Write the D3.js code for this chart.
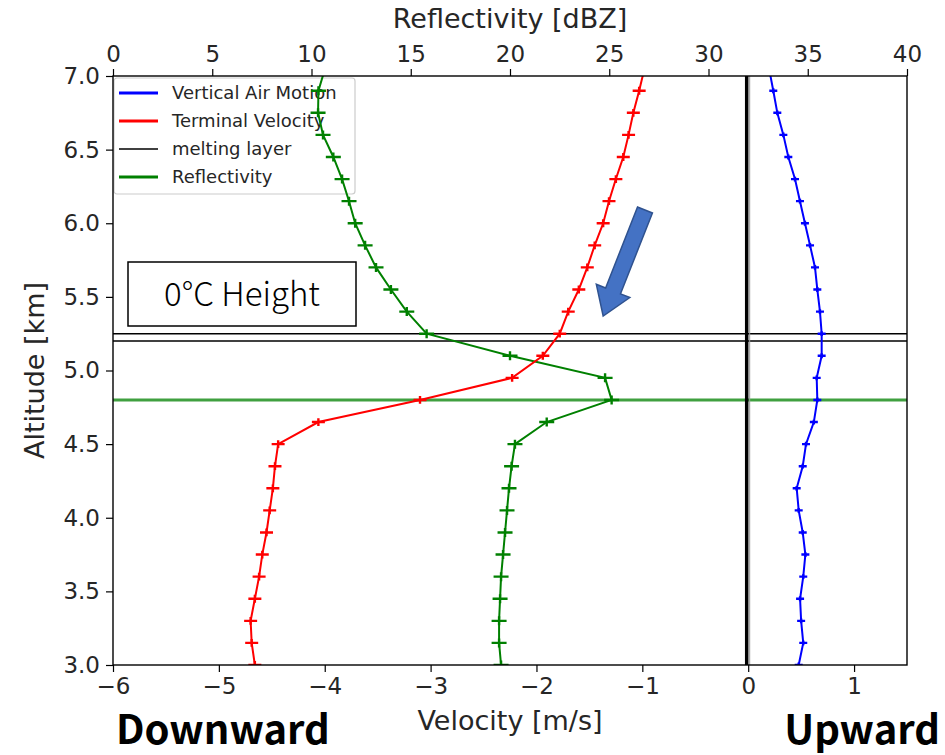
<!DOCTYPE html>
<html>
<head>
<meta charset="utf-8">
<script src="https://cdn.jsdelivr.net/npm/d3@7"></script>
<style>
  body { margin: 0; background: #fff; }
  svg { display: block; }
  .axis text { font-family: "DejaVu Sans", sans-serif; fill: #262626; }
  .axis line { stroke: #000; stroke-width: 1.2; }
</style>
</head>
<body>
<div id="chart"></div>
<script>
// altitude levels of the profiles [km]
const altitudes = [3.00, 3.15, 3.30, 3.45, 3.60, 3.75, 3.90, 4.05, 4.20, 4.35, 4.50, 4.65, 4.80, 4.95,
                   5.10, 5.25, 5.40, 5.55, 5.70, 5.85, 6.00, 6.15, 6.30, 6.45, 6.60, 6.75, 6.90, 7.05];
// velocities [m/s] (bottom axis)
const terminalVelocity = [-4.66, -4.69, -4.70, -4.66, -4.62, -4.59, -4.55, -4.52, -4.49, -4.47, -4.44, -4.06, -3.10, -2.23,
                          -1.94, -1.78, -1.70, -1.60, -1.52, -1.45, -1.37, -1.315, -1.25, -1.18, -1.13, -1.085, -1.03, -0.98];
const airMotion = [0.477, 0.52, 0.50, 0.49, 0.52, 0.54, 0.515, 0.477, 0.458, 0.515, 0.546, 0.62, 0.653, 0.647,
                   0.694, 0.694, 0.678, 0.653, 0.631, 0.584, 0.536, 0.489, 0.442, 0.379, 0.332, 0.275, 0.237, 0.197];
// reflectivity [dBZ] (top axis)
const reflectivity = [19.55, 19.45, 19.45, 19.5, 19.55, 19.65, 19.75, 19.85, 19.95, 20.08, 20.25, 21.85, 25.12, 24.79,
                      20.0, 15.8, 14.8, 14.0, 13.25, 12.7, 12.2, 11.89, 11.54, 11.10, 10.58, 10.33, 10.35, 10.68];

const meltingLayer = [5.25, 5.20];
const peakAltitude = 4.8;

const velocityTicks = [-6, -5, -4, -3, -2, -1, 0, 1];
const reflectivityTicks = [0, 5, 10, 15, 20, 25, 30, 35, 40];
const altitudeTicks = [3.0, 3.5, 4.0, 4.5, 5.0, 5.5, 6.0, 6.5, 7.0];

const legendItems = [
    { label: 'Vertical Air Motion', color: '#0000ff', w: 3 },
    { label: 'Terminal Velocity', color: '#ff0000', w: 3 },
    { label: 'melting layer', color: '#000', w: 1.3 },
    { label: 'Reflectivity', color: '#008000', w: 3 }
];

const width = 945;
const height = 755;
const plot = { left: 113, right: 907, top: 76, bottom: 665 };

const svg = d3.select('#chart').append('svg')
    .attr('width', width)
    .attr('height', height);

svg.append('rect').attr('width', width).attr('height', height).attr('fill', '#fff');

const vx = d3.scaleLinear().domain([-6, 1.5]).range([plot.left, plot.right]);
const rx = d3.scaleLinear().domain([0, 40]).range([plot.left, plot.right]);
const y = d3.scaleLinear().domain([3, 7]).range([plot.bottom, plot.top]);

svg.append('defs').append('clipPath').attr('id', 'clip')
    .append('rect')
    .attr('x', plot.left).attr('y', plot.top)
    .attr('width', plot.right - plot.left).attr('height', plot.bottom - plot.top);

// axes
const bottomAxis = svg.append('g').attr('class', 'axis')
    .attr('transform', `translate(0,${plot.bottom})`)
    .call(d3.axisBottom(vx).tickValues(velocityTicks).tickFormat(d3.format('d'))
        .tickSize(7).tickSizeOuter(0).tickPadding(6));
const topAxis = svg.append('g').attr('class', 'axis')
    .attr('transform', `translate(0,${plot.top})`)
    .call(d3.axisTop(rx).tickValues(reflectivityTicks).tickSize(7).tickSizeOuter(0).tickPadding(7));
const leftAxis = svg.append('g').attr('class', 'axis')
    .attr('transform', `translate(${plot.left},0)`)
    .call(d3.axisLeft(y).tickValues(altitudeTicks).tickFormat(d3.format('.1f'))
        .tickSize(7).tickSizeOuter(0).tickPadding(6));
[bottomAxis, topAxis, leftAxis].forEach(a => {
    a.select('.domain').remove();
    a.selectAll('text').attr('font-size', 23);
});

// legend (drawn under the lines)
const legend = svg.append('g').attr('transform', `translate(${plot.left + 1},${plot.top + 2})`);
legend.append('rect')
    .attr('width', 241).attr('height', 116).attr('rx', 3)
    .attr('fill', '#fff').attr('stroke', '#cccccc').attr('stroke-width', 1.2);
legendItems.forEach((d, i) => {
    const ly = 15 + i * 28;
    legend.append('line')
        .attr('x1', 5).attr('x2', 44).attr('y1', ly).attr('y2', ly)
        .attr('stroke', d.color).attr('stroke-width', d.w);
    legend.append('text')
        .attr('x', 58).attr('y', ly).attr('dy', '0.35em')
        .attr('font-family', 'DejaVu Sans, sans-serif').attr('font-size', 18)
        .attr('fill', '#262626')
        .text(d.label);
});

const data = altitudes.map((a, i) => ({
    alt: a, tv: terminalVelocity[i], vam: airMotion[i], dbz: reflectivity[i]
}));

const layer = svg.append('g').attr('clip-path', 'url(#clip)');

// reference lines
layer.append('line')
    .attr('x1', plot.left).attr('x2', plot.right)
    .attr('y1', y(peakAltitude)).attr('y2', y(peakAltitude))
    .attr('stroke', '#008000').attr('stroke-opacity', 0.75).attr('stroke-width', 3);
meltingLayer.forEach(m => {
    layer.append('line')
        .attr('x1', plot.left).attr('x2', plot.right)
        .attr('y1', y(m)).attr('y2', y(m))
        .attr('stroke', '#000').attr('stroke-width', 1.4);
});
layer.append('line')
    .attr('x1', vx(0) - 1.5).attr('x2', vx(0) - 1.5)
    .attr('y1', plot.top).attr('y2', plot.bottom + 4)
    .attr('stroke', '#000').attr('stroke-width', 3.5);
layer.append('line')
    .attr('x1', vx(0) + 1.5).attr('x2', vx(0) + 1.5)
    .attr('y1', plot.top).attr('y2', plot.bottom)
    .attr('stroke', '#999').attr('stroke-width', 1);

const series = [
    { key: 'dbz', scale: rx, color: '#008000', marker: 15 },
    { key: 'tv', scale: vx, color: '#ff0000', marker: 13 },
    { key: 'vam', scale: vx, color: '#0000ff', marker: 8 }
];

series.forEach(s => {
    const line = d3.line().x(d => s.scale(d[s.key])).y(d => y(d.alt));
    layer.append('path')
        .datum(data)
        .attr('d', line)
        .attr('fill', 'none')
        .attr('stroke', s.color)
        .attr('stroke-width', 2);
    const h = s.marker / 2;
    layer.selectAll(null)
        .data(data)
        .enter()
        .append('path')
        .attr('transform', d => `translate(${s.scale(d[s.key])},${y(d.alt)})`)
        .attr('d', `M${-h},0H${h}M0,${-h * 0.6}V${h * 0.6}`)
        .attr('stroke', s.color)
        .attr('stroke-width', 2.4);
});

// frame
svg.append('rect')
    .attr('x', plot.left).attr('y', plot.top)
    .attr('width', plot.right - plot.left).attr('height', plot.bottom - plot.top)
    .attr('fill', 'none').attr('stroke', '#000').attr('stroke-width', 1.4);

// axis titles
svg.append('text')
    .attr('x', (plot.left + plot.right) / 2).attr('y', 28)
    .attr('text-anchor', 'middle')
    .attr('font-family', 'DejaVu Sans, sans-serif').attr('font-size', 27).attr('fill', '#262626')
    .text('Reflectivity [dBZ]');
svg.append('text')
    .attr('x', (plot.left + plot.right) / 2).attr('y', 730)
    .attr('text-anchor', 'middle')
    .attr('font-family', 'DejaVu Sans, sans-serif').attr('font-size', 27).attr('fill', '#262626')
    .text('Velocity [m/s]');
svg.append('text')
    .attr('transform', `translate(44,${(plot.top + plot.bottom) / 2}) rotate(-90)`)
    .attr('text-anchor', 'middle')
    .attr('font-family', 'DejaVu Sans, sans-serif').attr('font-size', 27).attr('fill', '#262626')
    .text('Altitude [km]');

// annotations
svg.append('text')
    .attr('x', 116).attr('y', 744)
    .attr('font-family', '"Noto Sans CJK JP", sans-serif').attr('font-weight', 'bold').attr('font-size', 40)
    .text('Downward');
svg.append('text')
    .attr('x', 940).attr('y', 744).attr('text-anchor', 'end')
    .attr('font-family', '"Noto Sans CJK JP", sans-serif').attr('font-weight', 'bold').attr('font-size', 40)
    .text('Upward');

const box = svg.append('g');
box.append('rect')
    .attr('x', 128).attr('y', 262).attr('width', 228).attr('height', 64)
    .attr('fill', '#fff').attr('stroke', '#000').attr('stroke-width', 1.5);
box.append('text')
    .attr('x', 242).attr('y', 294).attr('dy', '0.36em').attr('text-anchor', 'middle')
    .attr('font-family', '"Noto Sans CJK JP", sans-serif').attr('font-weight', 300).attr('font-size', 33)
    .text('0°C Height');

// block arrow pointing down-left
const tail = [vx(-0.975), y(6.09)];
const tip = [vx(-1.37), y(5.37)];
const dx = tip[0] - tail[0], dy = tip[1] - tail[1];
const len = Math.hypot(dx, dy);
const ux = dx / len, uy = dy / len;
const px = -uy, py = ux;
const shaftW = 8, headW = 18, headL = 27;
const pt = (along, side) => [tail[0] + ux * along + px * side, tail[1] + uy * along + py * side];
const arrowPts = [
    pt(0, -shaftW), pt(len - headL, -shaftW), pt(len - headL, -headW),
    pt(len, 0),
    pt(len - headL, headW), pt(len - headL, shaftW), pt(0, shaftW)
];
svg.append('polygon')
    .attr('points', arrowPts.map(p => p.join(',')).join(' '))
    .attr('fill', '#4472c4').attr('stroke', '#2f528f').attr('stroke-width', 1.5);
</script>
</body>
</html>
